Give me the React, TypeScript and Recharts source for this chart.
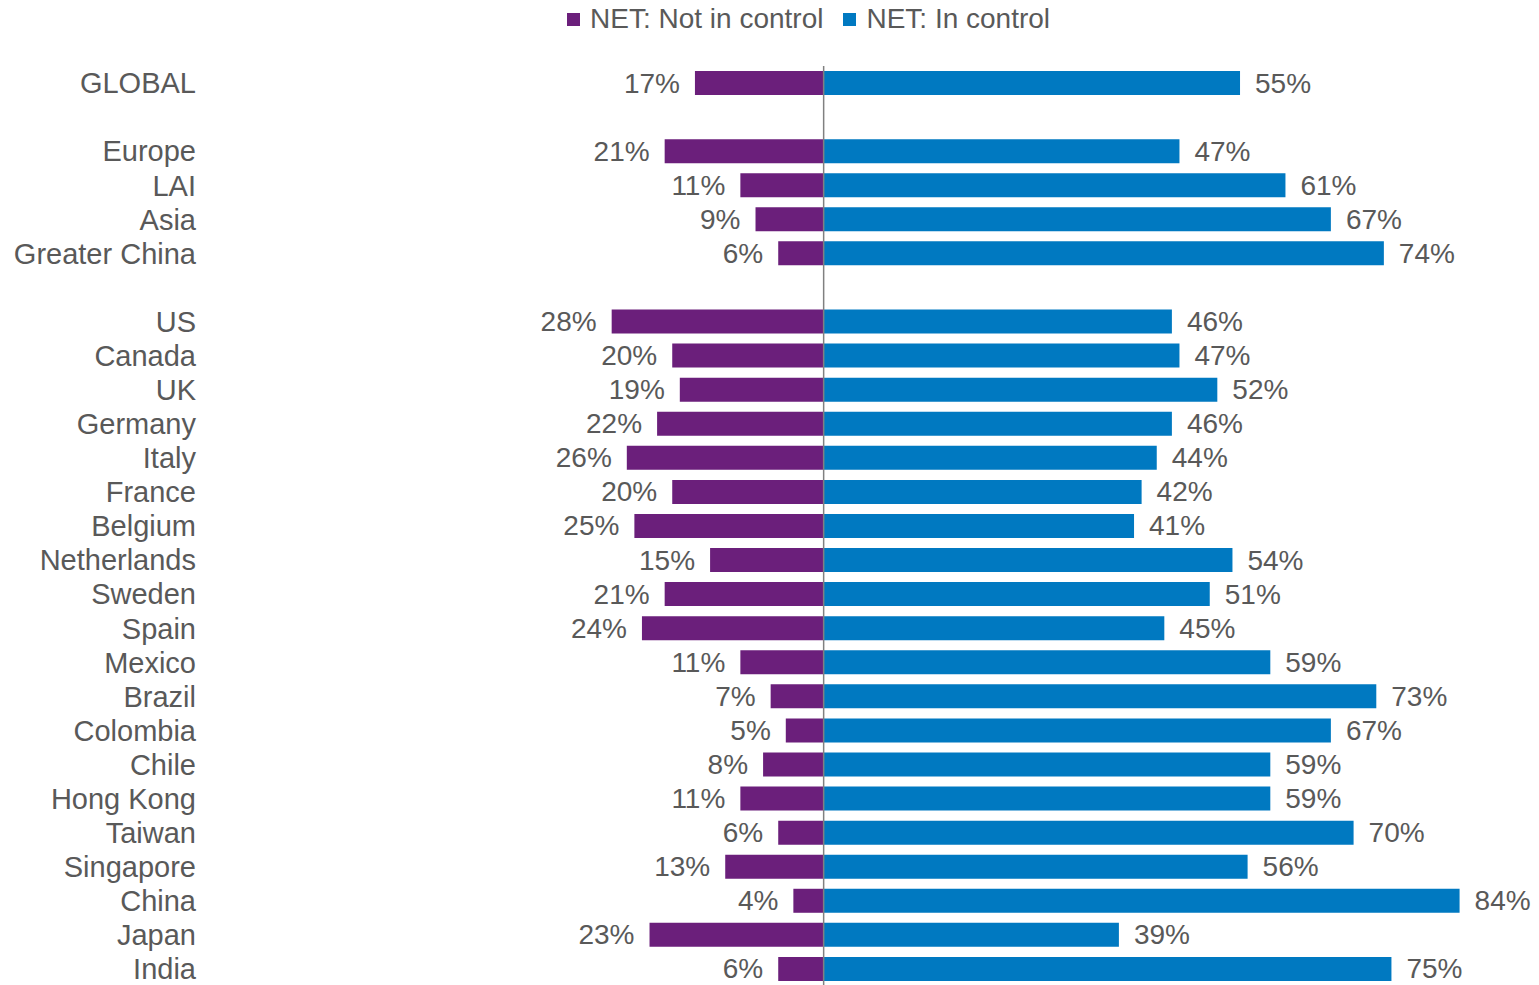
import { BarChart, Bar, XAxis, YAxis, ReferenceLine, LabelList } from 'recharts'

// blank strings are the spacer rows between groups
const categories = [
  'GLOBAL', ' ', 'Europe', 'LAI', 'Asia', 'Greater China', '  ',
  'US', 'Canada', 'UK', 'Germany', 'Italy', 'France', 'Belgium', 'Netherlands',
  'Sweden', 'Spain', 'Mexico', 'Brazil', 'Colombia', 'Chile', 'Hong Kong',
  'Taiwan', 'Singapore', 'China', 'Japan', 'India',
]
const notInControl = [
  17, null, 21, 11, 9, 6, null,
  28, 20, 19, 22, 26, 20, 25, 15, 21, 24, 11, 7, 5, 8, 11, 6, 13, 4, 23, 6,
]
const inControl = [
  55, null, 47, 61, 67, 74, null,
  46, 47, 52, 46, 44, 42, 41, 54, 51, 45, 59, 73, 67, 59, 59, 70, 56, 84, 39, 75,
]
const legendLabels = ['NET: Not in control', 'NET: In control']

const PURPLE = '#6B1F7B'
const BLUE = '#0079C1'
const TEXT = '#595959'
const FONT = 'Arial, "Liberation Sans", sans-serif'

const data = categories.map((name, i) => ({
  name,
  notIn: notInControl[i] == null ? null : -(notInControl[i] as number),
  inCtrl: inControl[i],
}))

function ValueLabel(props: any) {
  const { x, y, width, height, value } = props
  if (value == null) return null
  const left = Math.min(x, x + width)
  const right = Math.max(x, x + width)
  const neg = value < 0
  return (
    <text
      x={neg ? left - 15 : right + 15}
      y={y + height / 2}
      textAnchor={neg ? 'end' : 'start'}
      dominantBaseline="central"
      fill={TEXT}
      fontSize={28}
      fontFamily={FONT}
    >
      {Math.abs(value)}%
    </text>
  )
}

function TopLegend() {
  const colors = [PURPLE, BLUE]
  return (
    <div
      style={{
        position: 'absolute', left: 567, top: 2, display: 'flex',
        fontFamily: FONT, fontSize: 28, color: TEXT, lineHeight: '34px',
      }}
    >
      {legendLabels.map((label, i) => (
        <div key={label} style={{ display: 'flex', alignItems: 'center', marginRight: 20 }}>
          <span style={{ width: 13, height: 13, background: colors[i], marginRight: 10, display: 'inline-block' }} />
          <span>{label}</span>
        </div>
      ))}
    </div>
  )
}

export default function App() {
  return (
    <div style={{ position: 'absolute', left: 0, top: 0, width: 1539, height: 985, background: '#fff' }}>
      <BarChart
        width={1539}
        height={990}
        data={data}
        layout="vertical"
        stackOffset="sign"
        margin={{ top: 66, right: 34, left: 0, bottom: 4 }}
      >
        <XAxis type="number" domain={[-80, 90]} hide />
        <YAxis
          type="category"
          dataKey="name"
          width={218}
          axisLine={false}
          tickLine={false}
          tickMargin={16}
          interval={0}
          tick={{ fill: TEXT, fontSize: 29, fontFamily: FONT }}
        />
        <Bar dataKey="notIn" stackId="a" fill={PURPLE} barSize={24} isAnimationActive={false}>
          <LabelList dataKey="notIn" content={<ValueLabel />} />
        </Bar>
        <Bar dataKey="inCtrl" stackId="a" fill={BLUE} barSize={24} isAnimationActive={false}>
          <LabelList dataKey="inCtrl" content={<ValueLabel />} />
        </Bar>
        <ReferenceLine x={0} stroke="#808080" strokeWidth={1.5} />
      </BarChart>
      <TopLegend />
    </div>
  )
}
